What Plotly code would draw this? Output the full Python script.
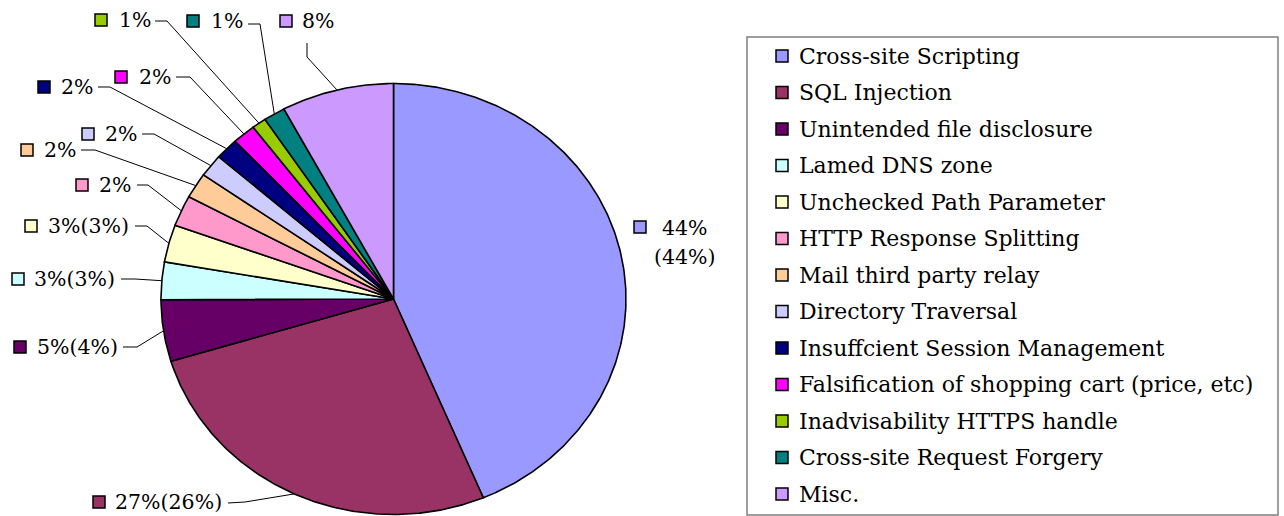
import numpy as np
import plotly.graph_objects as go

# ---- data ----
categories = [
    "Cross-site Scripting",
    "SQL Injection",
    "Unintended file disclosure",
    "Lamed DNS zone",
    "Unchecked Path Parameter",
    "HTTP Response Splitting",
    "Mail third party relay",
    "Directory Traversal",
    "Insuffcient Session Management",
    "Falsification of shopping cart (price, etc)",
    "Inadvisability HTTPS handle",
    "Cross-site Request Forgery",
    "Misc.",
]
shares = [43.6, 26.6, 4.6, 2.8, 2.8, 2.3, 1.9, 1.7, 1.6, 1.6, 1.0, 1.5, 7.8]
slice_labels = ["44%\n(44%)", "27%(26%)", "5%(4%)", "3%(3%)", "3%(3%)",
                "2%", "2%", "2%", "2%", "2%", "1%", "1%", "8%"]
colors = ["#9999FF", "#993366", "#660066", "#CCFFFF", "#FFFFCC", "#FF99CC",
          "#FFCC99", "#CCCCFF", "#000080", "#FF00FF", "#99CC00", "#008080",
          "#CC99FF"]

# ---- layout geometry (pixel space) ----
W, H = 1284, 516
CX, CY, RX, RY = 393.5, 299.0, 232.5, 215.5
FONT = "DejaVu Serif"
FS_LABEL = 20.5
FS_LEGEND = 22

# label placement: square centre x, text left x, text centre y, leader start, elbow
label_layout = [
    None,
    (99, 113, 502, (228, 503), (245, 502)),
    (20, 35, 347, (123, 347), (137, 347)),
    (18, 32, 279, (121, 279), (135, 279)),
    (31, 46, 226, (135, 226), (147, 226)),
    (82, 97, 185, (137, 185), (148, 185)),
    (27, 42, 150, (81, 150), (95, 150)),
    (88, 103, 134, (142, 134), (154, 134)),
    (44, 59, 87, (98, 87), (110, 87)),
    (121, 137, 77, (176, 77), (190, 77)),
    (101, 117, 20, (155, 21), (167, 21)),
    (193, 209, 21, (248, 24), (260, 24)),
    (286, 300, 21, (307, 43), (307, 57)),
]


def pt(theta_deg, scale=1.0):
    t = np.radians(theta_deg)
    return CX + RX * scale * np.sin(t), CY - RY * scale * np.cos(t)


fig = go.Figure()
total = float(sum(shares))
start = 0.0
mids = []
for name, v, c in zip(categories, shares, colors):
    span = 360.0 * v / total
    n = max(4, int(span * 2))
    th = np.linspace(start, start + span, n)
    xs, ys = pt(th)
    px = np.concatenate([[CX], xs, [CX]])
    py = np.concatenate([[CY], ys, [CY]])
    fig.add_trace(go.Scatter(x=px, y=py, mode="lines", fill="toself",
                             fillcolor=c, line=dict(color="black", width=1.6),
                             name=name, showlegend=False, hoverinfo="name"))
    mids.append(start + span / 2)
    start += span

annotations = []
sq_x, sq_y, sq_c = [], [], []
lx, ly = [], []

# slice labels
for i, (lab, c) in enumerate(zip(slice_labels, colors)):
    lay = label_layout[i]
    if lay is None:
        # first slice: two-line label to the right, no leader line
        sq_x.append(640); sq_y.append(227); sq_c.append(c)
        for k, line in enumerate(lab.split("\n")):
            annotations.append(dict(x=685, y=228 + 29 * k, xref="x", yref="y",
                                    text=line, showarrow=False, xanchor="center",
                                    yanchor="middle",
                                    font=dict(family=FONT, size=FS_LABEL, color="black")))
        continue
    sx, tx, ty, s0, el = lay
    sq_x.append(sx); sq_y.append(ty); sq_c.append(c)
    annotations.append(dict(x=tx, y=ty, xref="x", yref="y", text=lab.replace("\n", ""),
                            showarrow=False, xanchor="left", yanchor="middle",
                            font=dict(family=FONT, size=FS_LABEL, color="black")))
    ex, ey = pt(mids[i])
    lx += [s0[0], el[0], float(ex), None]
    ly += [s0[1], el[1], float(ey), None]

fig.add_trace(go.Scatter(x=lx, y=ly, mode="lines", line=dict(color="black", width=1),
                         showlegend=False, hoverinfo="skip"))

# legend (drawn manually inside a bordered box)
LG_X0, LG_Y0, LG_X1, LG_Y1 = 747, 37, 1278, 515
for i, (name, c) in enumerate(zip(categories, colors)):
    y = 56 + 36.5 * i
    sq_x.append(782); sq_y.append(y); sq_c.append(c)
    annotations.append(dict(x=797, y=y, xref="x", yref="y", text=name,
                            showarrow=False, xanchor="left", yanchor="middle",
                            font=dict(family=FONT, size=FS_LEGEND, color="black")))

fig.add_trace(go.Scatter(x=sq_x, y=sq_y, mode="markers",
                         marker=dict(symbol="square", size=12, color=sq_c,
                                     line=dict(color="black", width=1.5)),
                         showlegend=False, hoverinfo="skip"))

fig.update_layout(
    width=W, height=H,
    margin=dict(l=0, r=0, t=0, b=0),
    paper_bgcolor="white", plot_bgcolor="white",
    showlegend=False,
    xaxis=dict(range=[0, W], visible=False, fixedrange=True),
    yaxis=dict(range=[H, 0], visible=False, fixedrange=True),
    annotations=annotations,
    shapes=[dict(type="rect", xref="x", yref="y", x0=LG_X0, y0=LG_Y0, x1=LG_X1, y1=LG_Y1,
                 line=dict(color="#7f7f7f", width=1.5), fillcolor="rgba(0,0,0,0)",
                 layer="below")],
)

fig.write_html("out.html", config={"displayModeBar": False},
               post_script="document.body.style.margin='0';document.body.style.overflow='hidden';")
